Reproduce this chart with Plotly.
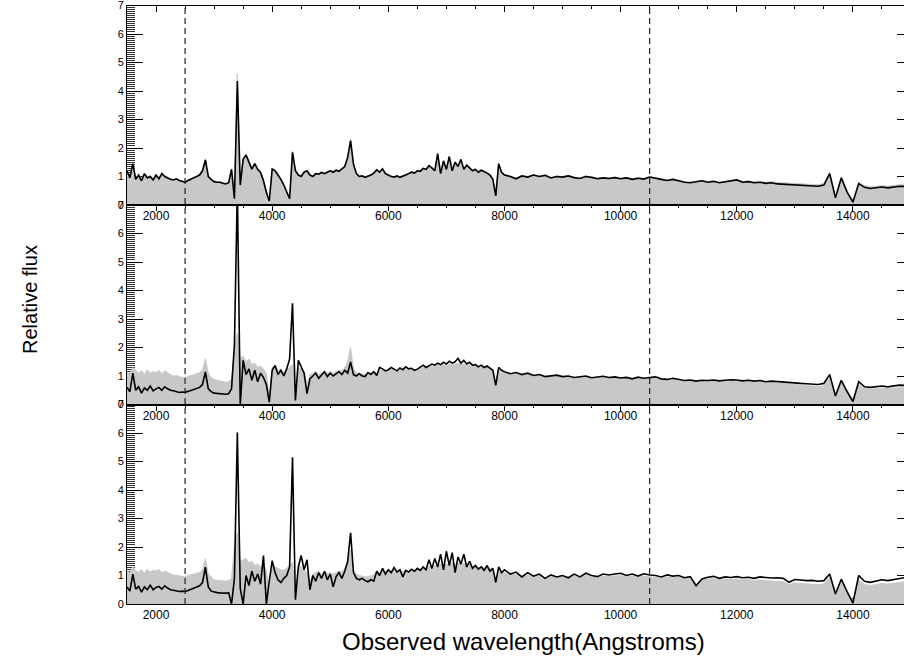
import plotly.graph_objects as go

# ---------------- data ----------------
wavelength = [
    1500, 1550, 1600, 1650, 1700, 1750, 1800, 1850, 1900, 1950,
    2000, 2050, 2100, 2150, 2200, 2250, 2300, 2350, 2400, 2450,
    2500, 2550, 2600, 2650, 2700, 2750, 2800, 2850, 2900, 2950,
    3000, 3050, 3100, 3150, 3200, 3250, 3300, 3350, 3400, 3450,
    3500, 3550, 3600, 3650, 3700, 3750, 3800, 3850, 3900, 3950,
    4000, 4050, 4100, 4150, 4200, 4250, 4300, 4350, 4400, 4450,
    4500, 4550, 4600, 4650, 4700, 4750, 4800, 4850, 4900, 4950,
    5000, 5050, 5100, 5150, 5200, 5250, 5300, 5350, 5400, 5450,
    5500, 5550, 5600, 5650, 5700, 5750, 5800, 5850, 5900, 5950,
    6000, 6050, 6100, 6150, 6200, 6250, 6300, 6350, 6400, 6450,
    6500, 6550, 6600, 6650, 6700, 6750, 6800, 6850, 6900, 6950,
    7000, 7050, 7100, 7150, 7200, 7250, 7300, 7350, 7400, 7450,
    7500, 7550, 7600, 7650, 7700, 7750, 7800, 7850, 7900, 7950,
    8000, 8100, 8200, 8300, 8400, 8500, 8600, 8700, 8800, 8900,
    9000, 9100, 9200, 9300, 9400, 9500, 9600, 9700, 9800, 9900,
    10000, 10100, 10200, 10300, 10400, 10500, 10600, 10700, 10800, 10900,
    11000, 11100, 11200, 11300, 11400, 11500, 11600, 11700, 11800, 11900,
    12000, 12100, 12200, 12300, 12400, 12500, 12600, 12700, 12800, 12900,
    13000, 13100, 13200, 13300, 13400, 13500, 13600, 13700, 13800, 13900,
    14000, 14100, 14200, 14300, 14400, 14500, 14600, 14700, 14800, 14900,
]

# panel 1 (top)
object_flux_1 = [
    1.20, 0.95, 1.45, 0.90, 1.05, 0.85, 1.10, 0.95, 1.00, 0.88,
    1.05, 0.92, 1.10, 1.00, 0.95, 0.90, 0.88, 0.92, 0.86, 0.84,
    0.80, 0.86, 0.90, 0.95, 1.00, 1.05, 1.20, 1.58, 1.00, 0.90,
    0.82, 0.80, 0.80, 0.76, 0.74, 0.78, 1.25, 0.22, 4.35, 0.70,
    1.60, 1.75, 1.50, 1.26, 1.45, 1.25, 1.14, 0.85, 0.45, 0.14,
    1.26, 1.20, 1.05, 0.90, 0.70, 0.44, 0.22, 1.85, 1.20, 1.05,
    1.00, 1.15, 1.20, 1.05, 1.00, 1.10, 1.08, 1.14, 1.10, 1.15,
    1.20, 1.15, 1.22, 1.18, 1.26, 1.35, 1.67, 2.26, 1.43, 1.10,
    1.00, 1.02, 0.97, 1.00, 1.05, 1.12, 1.23, 1.15, 1.27, 1.10,
    1.05, 1.00, 0.98, 1.02, 0.97, 1.00, 1.05, 1.10, 1.15, 1.12,
    1.20, 1.18, 1.28, 1.25, 1.38, 1.30, 1.20, 1.80, 1.10, 1.55,
    1.25, 1.70, 1.20, 1.50, 1.35, 1.60, 1.25, 1.40, 1.30, 1.20,
    1.25, 1.15, 1.22, 1.18, 1.12, 1.05, 0.90, 0.32, 1.45, 1.15,
    1.05, 1.00, 0.92, 1.02, 0.98, 1.05, 1.00, 1.04, 0.95, 1.00,
    0.98, 1.02, 0.96, 0.93, 1.00, 0.97, 0.92, 0.95, 0.93, 0.96,
    0.92, 0.95, 0.90, 0.94, 0.91, 0.98, 0.95, 0.90, 0.86, 0.90,
    0.85, 0.80, 0.78, 0.82, 0.85, 0.80, 0.83, 0.78, 0.82, 0.86,
    0.88, 0.80, 0.82, 0.78, 0.80, 0.76, 0.78, 0.74, 0.73, 0.72,
    0.70, 0.69, 0.68, 0.68, 0.66, 0.70, 1.10, 0.25, 0.95, 0.45,
    0.10, 0.75, 0.62, 0.58, 0.60, 0.63, 0.60, 0.62, 0.66, 0.65,
]
template_flux_1 = [
    1.22, 1.00, 1.48, 0.95, 1.08, 0.90, 1.12, 0.98, 1.02, 0.92,
    1.08, 0.95, 1.12, 1.02, 0.98, 0.92, 0.90, 0.94, 0.88, 0.86,
    0.82, 0.88, 0.92, 0.97, 1.02, 1.08, 1.22, 1.62, 1.02, 0.92,
    0.84, 0.82, 0.82, 0.78, 0.76, 0.80, 1.28, 0.25, 4.60, 0.75,
    1.65, 1.80, 1.55, 1.30, 1.48, 1.28, 1.18, 0.90, 0.50, 0.18,
    1.30, 1.25, 1.08, 0.92, 0.74, 0.48, 0.26, 1.90, 1.25, 1.08,
    1.03, 1.18, 1.22, 1.08, 1.03, 1.12, 1.10, 1.16, 1.12, 1.18,
    1.22, 1.18, 1.24, 1.20, 1.28, 1.38, 1.70, 2.30, 1.46, 1.12,
    1.03, 1.04, 1.00, 1.02, 1.08, 1.14, 1.25, 1.18, 1.28, 1.12,
    1.07, 1.02, 1.00, 1.04, 0.99, 1.02, 1.07, 1.12, 1.17, 1.14,
    1.22, 1.20, 1.30, 1.27, 1.40, 1.32, 1.22, 1.75, 1.15, 1.55,
    1.28, 1.68, 1.24, 1.52, 1.38, 1.58, 1.28, 1.42, 1.32, 1.22,
    1.27, 1.18, 1.24, 1.20, 1.14, 1.08, 0.95, 0.38, 1.42, 1.18,
    1.07, 1.02, 0.95, 1.04, 1.00, 1.07, 1.02, 1.06, 0.97, 1.02,
    1.00, 1.04, 0.98, 0.95, 1.02, 0.99, 0.94, 0.97, 0.95, 0.98,
    0.94, 0.97, 0.92, 0.96, 0.93, 1.00, 0.97, 0.92, 0.88, 0.92,
    0.87, 0.82, 0.80, 0.84, 0.87, 0.82, 0.85, 0.80, 0.84, 0.88,
    0.90, 0.83, 0.85, 0.81, 0.83, 0.80, 0.82, 0.79, 0.78, 0.77,
    0.75, 0.74, 0.73, 0.73, 0.71, 0.75, 1.15, 0.30, 1.00, 0.50,
    0.15, 0.80, 0.68, 0.64, 0.66, 0.68, 0.66, 0.68, 0.71, 0.70,
]

# panel 2 (middle)
object_flux_2 = [
    0.60, 0.45, 1.10, 0.50, 0.62, 0.40, 0.58, 0.50, 0.65, 0.48,
    0.55, 0.60, 0.50, 0.62, 0.55, 0.50, 0.48, 0.45, 0.42, 0.44,
    0.43, 0.46, 0.50, 0.52, 0.56, 0.60, 0.70, 1.14, 0.55, 0.45,
    0.40, 0.39, 0.38, 0.37, 0.36, 0.38, 0.55, 2.10, 7.60, 0.00,
    1.55, 1.05, 1.25, 0.85, 1.20, 0.80, 1.10, 0.95, 0.70, 0.08,
    1.20, 1.37, 1.05, 1.20, 1.00, 1.25, 1.60, 3.55, 0.14, 1.55,
    1.31, 1.10, 0.38, 0.90, 1.00, 1.10, 0.92, 1.05, 1.15, 0.98,
    1.10, 1.00, 1.08, 1.15, 1.05, 1.20, 1.10, 1.49, 1.05, 1.00,
    1.08, 1.00, 0.98, 1.12, 1.05, 1.15, 1.02, 1.30, 1.25, 1.18,
    1.22, 1.30, 1.24, 1.18, 1.28, 1.22, 1.32, 1.25, 1.27, 1.20,
    1.24, 1.30, 1.38, 1.30, 1.35, 1.42, 1.38, 1.45, 1.40, 1.48,
    1.42, 1.52, 1.45, 1.50, 1.62, 1.45, 1.55, 1.42, 1.48, 1.38,
    1.40, 1.32, 1.38, 1.30, 1.35, 1.28, 1.20, 0.67, 1.30, 1.20,
    1.15, 1.08, 1.12, 1.05, 1.10, 1.02, 1.05, 0.98, 1.00, 1.03,
    0.98, 1.00, 0.95, 0.97, 1.00, 0.94, 0.96, 0.99, 0.95, 0.97,
    0.93, 0.95, 0.90, 0.96, 0.92, 0.94, 0.97, 0.90, 0.88, 0.92,
    0.88, 0.84, 0.86, 0.82, 0.85, 0.84, 0.86, 0.83, 0.85, 0.87,
    0.86, 0.83, 0.85, 0.82, 0.84, 0.80, 0.82, 0.80, 0.78, 0.77,
    0.76, 0.74, 0.73, 0.72, 0.70, 0.74, 1.05, 0.30, 0.85, 0.45,
    0.10, 0.80, 0.62, 0.60, 0.63, 0.65, 0.62, 0.66, 0.68, 0.67,
]
template_flux_2 = [
    1.15, 1.05, 1.30, 1.20, 1.10, 1.18, 1.05, 1.22, 1.10, 1.15,
    1.12, 1.20, 1.08, 1.18, 1.10, 1.05, 1.00, 1.02, 0.98, 0.95,
    0.95, 0.98, 1.00, 1.05, 1.08, 1.12, 1.20, 1.60, 1.10, 0.95,
    0.88, 0.85, 0.82, 0.80, 0.78, 0.80, 0.90, 2.00, 2.50, 1.60,
    1.70, 1.50, 1.60, 1.40, 1.45, 1.30, 1.35, 1.25, 1.10, 0.25,
    1.30, 1.35, 1.20, 1.25, 1.15, 1.20, 1.30, 1.40, 0.40, 1.30,
    1.25, 1.15, 0.70, 1.05, 1.10, 1.15, 1.05, 1.12, 1.18, 1.10,
    1.15, 1.10, 1.15, 1.20, 1.18, 1.30, 1.50, 2.00, 1.25, 1.10,
    1.10, 1.08, 1.05, 1.10, 1.12, 1.15, 1.10, 1.18, 1.20, 1.18,
    1.20, 1.24, 1.22, 1.18, 1.22, 1.20, 1.25, 1.22, 1.25, 1.20,
    1.22, 1.26, 1.30, 1.28, 1.30, 1.35, 1.33, 1.38, 1.36, 1.40,
    1.36, 1.42, 1.40, 1.42, 1.45, 1.40, 1.42, 1.38, 1.40, 1.35,
    1.36, 1.30, 1.32, 1.28, 1.30, 1.25, 1.15, 0.75, 1.20, 1.15,
    1.10, 1.05, 1.08, 1.02, 1.05, 1.00, 1.02, 0.96, 0.98, 1.00,
    0.95, 0.97, 0.93, 0.95, 0.97, 0.92, 0.94, 0.96, 0.93, 0.95,
    0.90, 0.92, 0.88, 0.93, 0.90, 0.91, 0.93, 0.88, 0.86, 0.89,
    0.85, 0.82, 0.83, 0.80, 0.82, 0.81, 0.83, 0.80, 0.82, 0.84,
    0.82, 0.80, 0.81, 0.78, 0.80, 0.76, 0.77, 0.75, 0.72, 0.70,
    0.69, 0.67, 0.66, 0.65, 0.63, 0.66, 0.95, 0.35, 0.75, 0.50,
    0.20, 0.70, 0.56, 0.54, 0.56, 0.58, 0.56, 0.58, 0.60, 0.60,
]

# panel 3 (bottom)
object_flux_3 = [
    0.60, 0.45, 1.05, 0.52, 0.62, 0.42, 0.60, 0.50, 0.66, 0.50,
    0.58, 0.62, 0.52, 0.64, 0.56, 0.50, 0.48, 0.46, 0.44, 0.45,
    0.44, 0.47, 0.52, 0.55, 0.60, 0.64, 0.75, 1.29, 0.60, 0.45,
    0.42, 0.40, 0.39, 0.38, 0.38, 0.40, 0.00, 0.90, 6.02, 0.55,
    0.00, 1.00, 0.65, 1.15, 0.80, 1.05, 0.70, 1.70, 0.00, 0.80,
    1.52, 1.10, 0.85, 0.75, 0.90, 1.00, 1.30, 5.15, 0.15, 1.30,
    1.70, 1.20, 1.55, 0.50, 1.00, 0.80, 1.10, 0.90, 1.15, 0.85,
    1.05, 0.60, 0.95, 1.10, 0.90, 1.15, 1.50, 2.50, 1.10, 0.90,
    0.85, 0.90, 0.82, 0.78, 0.85, 0.80, 1.15, 1.00, 1.25, 1.05,
    1.20, 1.10, 1.28, 1.12, 1.20, 0.95, 1.18, 1.12, 1.22, 1.15,
    1.25, 1.18, 1.30, 1.20, 1.55, 1.25, 1.60, 1.30, 1.75, 1.20,
    1.85, 1.35, 1.80, 1.10, 1.65, 1.40, 1.75, 1.30, 1.50, 1.25,
    1.35, 1.22, 1.30, 1.18, 1.35, 1.15, 1.25, 0.76, 1.30, 1.10,
    1.20, 1.05, 1.12, 0.95, 1.10, 0.98, 1.05, 0.90, 1.02, 0.95,
    1.00, 0.92, 1.05, 0.95, 1.08, 1.00, 0.96, 1.05, 1.02, 1.05,
    1.08, 1.00, 1.05, 0.98, 1.06, 1.02, 1.00, 0.95, 1.02, 0.98,
    1.00, 0.92, 0.96, 0.64, 0.88, 0.94, 0.97, 0.90, 0.95, 0.93,
    0.96, 0.92, 0.94, 0.90, 0.95, 0.93, 0.91, 0.92, 0.90, 0.76,
    0.86, 0.84, 0.82, 0.83, 0.80, 0.82, 1.05, 0.35, 0.87, 0.43,
    0.03, 1.00, 0.80, 0.76, 0.80, 0.85, 0.82, 0.86, 0.90, 0.93,
]
template_flux_3 = [
    1.18, 1.08, 1.32, 1.15, 1.12, 1.20, 1.08, 1.22, 1.12, 1.18,
    1.15, 1.22, 1.10, 1.15, 1.12, 1.05, 1.02, 1.00, 0.98, 0.96,
    0.95, 1.00, 1.02, 1.05, 1.08, 1.10, 1.20, 1.58, 1.05, 0.95,
    0.85, 0.83, 0.82, 0.80, 0.80, 0.82, 0.90, 2.00, 2.50, 1.50,
    1.55, 1.60, 1.45, 1.50, 1.35, 1.40, 1.30, 1.35, 1.20, 0.30,
    1.35, 1.30, 1.25, 1.20, 1.18, 1.25, 1.35, 1.45, 0.40, 1.35,
    1.30, 1.20, 1.10, 0.80, 1.05, 1.10, 1.15, 1.05, 1.12, 1.08,
    1.10, 1.05, 1.10, 1.15, 1.12, 1.25, 1.45, 1.90, 1.20, 1.05,
    1.00, 0.98, 0.95, 0.96, 1.00, 1.02, 1.10, 1.08, 1.15, 1.12,
    1.15, 1.15, 1.18, 1.14, 1.16, 1.12, 1.18, 1.16, 1.20, 1.18,
    1.20, 1.20, 1.25, 1.24, 1.32, 1.30, 1.35, 1.32, 1.40, 1.36,
    1.40, 1.38, 1.45, 1.38, 1.42, 1.40, 1.42, 1.36, 1.38, 1.32,
    1.32, 1.28, 1.30, 1.26, 1.28, 1.24, 1.22, 0.85, 1.15, 1.10,
    1.10, 1.02, 1.05, 0.95, 1.02, 0.95, 1.00, 0.90, 0.96, 0.92,
    0.95, 0.90, 0.98, 0.92, 1.00, 0.95, 0.92, 0.98, 0.96, 0.98,
    1.00, 0.95, 0.98, 0.93, 0.98, 0.96, 0.94, 0.90, 0.95, 0.92,
    0.93, 0.88, 0.90, 0.68, 0.84, 0.88, 0.90, 0.85, 0.88, 0.86,
    0.88, 0.85, 0.86, 0.82, 0.85, 0.82, 0.80, 0.80, 0.78, 0.68,
    0.74, 0.72, 0.70, 0.70, 0.68, 0.70, 0.95, 0.40, 0.75, 0.48,
    0.12, 0.85, 0.68, 0.65, 0.68, 0.72, 0.70, 0.73, 0.76, 0.78,
]

object_series = [object_flux_1, object_flux_2, object_flux_3]
template_series = [template_flux_1, template_flux_2, template_flux_3]
marker_lines = [2500, 10500]
x_tick_values = [2000, 4000, 6000, 8000, 10000, 12000, 14000]
x_tick_labels = ["2000", "4000", "6000", "8000", "10000", "12000", "14000"]
y_tick_values = [0, 1, 2, 3, 4, 5, 6, 7]
y_tick_labels = ["0", "1", "2", "3", "4", "5", "6", "7"]

# ---------------- layout ----------------
W, H = 904, 662
LEFT = 127
TOPS = [5.5, 205.0, 404.5]
PH = 199.5
FONT = "Liberation Sans, Arial, Helvetica, sans-serif"

fig = go.Figure()
layout = dict(
    width=W, height=H,
    margin=dict(l=0, r=0, t=0, b=0),
    paper_bgcolor="white", plot_bgcolor="white",
    showlegend=False,
    template="none",
    font=dict(family=FONT, color="black"),
)

for k in range(3):
    n = k + 1
    xa = "xaxis" if n == 1 else f"xaxis{n}"
    ya = "yaxis" if n == 1 else f"yaxis{n}"
    yr = f"yaxis{n + 3}"
    xref = "x" if n == 1 else f"x{n}"
    yref = "y" if n == 1 else f"y{n}"
    y_lo = 1 - (TOPS[k] + PH) / H
    y_hi = 1 - TOPS[k] / H

    layout[xa] = dict(
        domain=[LEFT / W, 1], anchor=yref, range=[1500, 14880],
        tickmode="array", tickvals=x_tick_values, ticktext=x_tick_labels,
        ticks="inside", ticklen=6, tickwidth=1, tickcolor="black",
        minor=dict(dtick=500, tick0=0, ticks="inside", ticklen=3, tickcolor="black", tickwidth=1),
        showline=True, linecolor="black", linewidth=1, mirror="ticks",
        showgrid=False, zeroline=False, layer="below traces",
        tickfont=dict(size=12, family=FONT, color="black"),
        automargin=False, fixedrange=True,
    )
    layout[ya] = dict(
        domain=[y_lo, y_hi], anchor=xref, range=[0, 7],
        tickmode="array", tickvals=y_tick_values, ticktext=y_tick_labels,
        ticks="inside", ticklen=16, tickwidth=1, tickcolor="black",
        minor=dict(dtick=1 / 14, tick0=0, ticks="inside", ticklen=8, tickcolor="#333", tickwidth=1),
        showline=True, linecolor="black", linewidth=1, mirror=False,
        showgrid=False, zeroline=False, layer="below traces",
        ticklabeloverflow="allow",
        tickfont=dict(size=11, family=FONT, color="black"),
        automargin=False, fixedrange=True,
    )
    layout[yr] = dict(
        overlaying=yref, side="right", anchor=xref, range=[0, 7],
        tickmode="array", tickvals=y_tick_values,
        ticks="inside", ticklen=7, tickwidth=1, tickcolor="black",
        showticklabels=False, showline=False, showgrid=False, zeroline=False,
        layer="below traces", automargin=False, fixedrange=True,
    )

    fig.add_trace(go.Scatter(
        x=wavelength, y=template_series[k], xaxis=xref, yaxis=yref,
        mode="lines", fill="tozeroy", fillcolor="#c8c8c8",
        line=dict(color="#c8c8c8", width=1), hoverinfo="skip",
    ))
    fig.add_trace(go.Scatter(
        x=wavelength, y=object_series[k], xaxis=xref, yaxis=f"y{n + 3}",
        mode="lines", line=dict(color="black", width=1.6), hoverinfo="skip",
    ))

shapes = []
for wl in marker_lines:
    shapes.append(dict(
        type="line", xref="x", yref="paper", x0=wl, x1=wl,
        y0=1 - (TOPS[2] + PH) / H, y1=1 - TOPS[0] / H,
        line=dict(color="#222", width=1.2, dash="6px,4px"),
    ))
layout["shapes"] = shapes

layout["annotations"] = [
    dict(text="Relative flux", xref="paper", yref="paper", x=30 / W, y=1 - 300 / H,
         textangle=-90, showarrow=False, font=dict(size=20, family=FONT, color="black"),
         xanchor="center", yanchor="middle"),
    dict(text="Observed wavelength(Angstroms)", xref="paper", yref="paper",
         x=523 / W, y=1 - 641 / H, showarrow=False,
         font=dict(size=24, family=FONT, color="black"),
         xanchor="center", yanchor="middle"),
]

fig.update_layout(**layout)
fig.write_html("out.html")
